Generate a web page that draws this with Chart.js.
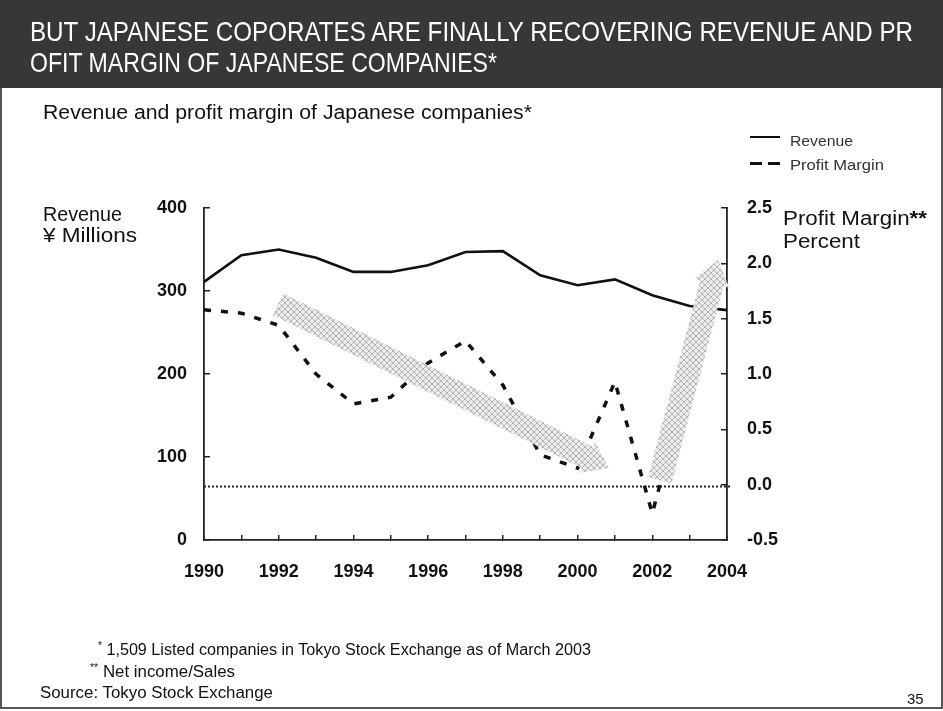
<!DOCTYPE html>
<html>
<head>
<meta charset="utf-8">
<script src="https://cdn.jsdelivr.net/npm/chart.js@4/dist/chart.umd.min.js"></script>
<style>
  html, body { margin: 0; padding: 0; background: #fff; }
  body { width: 943px; height: 711px; position: relative; overflow: hidden;
         font-family: "Liberation Sans", Arial, sans-serif; color: #111; }
  #bar { position: absolute; left: 0; top: 0; width: 943px; height: 88px;
         background: #373737; }
  #frame { position: absolute; left: 0; top: 88px; width: 939px; height: 619px;
           border: 2px solid #555; border-top: none; }
  #chart { position: absolute; left: 0; top: 0; }
  .t { position: absolute; white-space: nowrap; line-height: 1; transform-origin: 0 0; }
  .key { position: absolute; height: 0; }
</style>
</head>
<body>
<div id="bar"></div>
<div id="frame"></div>
<canvas id="chart" width="943" height="711"></canvas>

<div class="t" data-w="883" style="left:30px;top:18px;font-size:28px;color:#fff">BUT JAPANESE COPORATES ARE FINALLY RECOVERING REVENUE AND PR</div>
<div class="t" data-w="467" style="left:30px;top:49px;font-size:28px;color:#fff">OFIT MARGIN OF JAPANESE COMPANIES*</div>

<div class="t" data-w="489" style="left:43px;top:102px;font-size:20px">Revenue and profit margin of Japanese companies*</div>

<div class="key" style="left:750px;top:136px;width:30px;border-top:2px solid #111"></div>
<div class="key" style="left:750px;top:162px;width:12px;border-top:3px solid #111"></div>
<div class="key" style="left:768px;top:162px;width:12px;border-top:3px solid #111"></div>
<div class="t" data-w="63" style="left:790px;top:133px;font-size:15px;color:#333">Revenue</div>
<div class="t" data-w="94" style="left:790px;top:157px;font-size:15px;color:#333">Profit Margin</div>

<div class="t" data-w="79" style="left:43px;top:204px;font-size:20px">Revenue</div>
<div class="t" data-w="94" style="left:43px;top:225px;font-size:20px">¥ Millions</div>
<div class="t" data-w="144" style="left:783px;top:208px;font-size:20px">Profit Margin<b>**</b></div>
<div class="t" data-w="77" style="left:783px;top:231px;font-size:20px">Percent</div>

<div class="t" data-w="493" style="left:98px;top:641px;font-size:16px"><sup style="font-size:10px">*</sup> 1,509 Listed companies in Tokyo Stock Exchange as of March 2003</div>
<div class="t" data-w="145" style="left:90px;top:663px;font-size:16px"><sup style="font-size:10px">**</sup> Net income/Sales</div>
<div class="t" data-w="233" style="left:40px;top:685px;font-size:16px">Source: Tokyo Stock Exchange</div>
<div class="t" style="left:907px;top:691px;font-size:15px">35</div>

<script>
// Fiscal years on the category axis
const years = ['1990','1991','1992','1993','1994','1995','1996','1997',
               '1998','1999','2000','2001','2002','2003','2004'];
// Revenue, ¥ millions (left axis)
const revenue = [311, 343, 350, 340, 323, 323, 331, 347, 348, 319, 307, 314, 295, 282, 277];
// Profit margin, percent (right axis)
const profitMargin = [1.58, 1.55, 1.44, 1.00, 0.73, 0.79, 1.10, 1.30, 0.90, 0.27, 0.15, 0.93, -0.26, 1.00, null];
// Axis tick values
const revenueTicks = [0, 100, 200, 300, 400];
const marginTicks = [-0.5, 0.0, 0.5, 1.0, 1.5, 2.0, 2.5];

// Trend arrows, anchored in (year, percent) coordinates
const trendArrows = [
  { from: [1991.98, 1.63], to: [2000.84, 0.15], shaft: 12, head: 17, headLen: 24 },
  { from: [2002.20, 0.04], to: [2003.76, 2.03], shaft: 12, head: 18, headLen: 24 }
];

// Squeeze / stretch text blocks to their set widths
document.querySelectorAll('.t[data-w]').forEach(el => {
  const w = el.getBoundingClientRect().width;
  el.style.transform = 'scaleX(' + (parseFloat(el.dataset.w) / w) + ')';
});

function hatchPattern(ctx) {
  const c = document.createElement('canvas');
  c.width = c.height = 6;
  const g = c.getContext('2d');
  g.fillStyle = '#ececec';
  g.fillRect(0, 0, 6, 6);
  g.strokeStyle = '#b4b4b4';
  g.lineWidth = 1;
  g.beginPath();
  g.moveTo(0, 0); g.lineTo(6, 6);
  g.moveTo(6, 0); g.lineTo(0, 6);
  g.stroke();
  return ctx.createPattern(c, 'repeat');
}

const zeroLine = {
  id: 'zeroLine',
  beforeDatasetsDraw(chart) {
    const { ctx, chartArea, scales } = chart;
    const y = Math.round(scales.y1.getPixelForValue(0)) + 1.5;
    ctx.save();
    ctx.strokeStyle = '#222';
    ctx.lineWidth = 2;
    ctx.setLineDash([2, 2]);
    ctx.beginPath();
    ctx.moveTo(chartArea.left, y);
    ctx.lineTo(chartArea.right + 4, y);
    ctx.stroke();
    ctx.restore();
  }
};

const arrows = {
  id: 'trendArrows',
  afterDatasetsDraw(chart) {
    const { ctx, scales } = chart;
    const xs = scales.x, ys = scales.y1;
    const base = Number(years[0]);
    ctx.save();
    ctx.fillStyle = hatchPattern(ctx);
    trendArrows.forEach(a => {
      const tx = xs.getPixelForValue(a.from[0] - base), ty = ys.getPixelForValue(a.from[1]);
      const px = xs.getPixelForValue(a.to[0] - base), py = ys.getPixelForValue(a.to[1]);
      const len = Math.hypot(px - tx, py - ty);
      const ux = (px - tx) / len, uy = (py - ty) / len;
      const nx = -uy, ny = ux;
      const bx = px - ux * a.headLen, by = py - uy * a.headLen;
      ctx.beginPath();
      ctx.moveTo(tx + nx * a.shaft, ty + ny * a.shaft);
      ctx.lineTo(bx + nx * a.shaft, by + ny * a.shaft);
      ctx.lineTo(bx + nx * a.head, by + ny * a.head);
      ctx.lineTo(px, py);
      ctx.lineTo(bx - nx * a.head, by - ny * a.head);
      ctx.lineTo(bx - nx * a.shaft, by - ny * a.shaft);
      ctx.lineTo(tx - nx * a.shaft, ty - ny * a.shaft);
      ctx.closePath();
      ctx.fill();
    });
    ctx.restore();
  }
};

const tickFont = { family: '"Liberation Sans", Arial, sans-serif', size: 18, weight: 'bold' };
const axisGrid = { drawOnChartArea: false, drawTicks: true, tickLength: -6, color: '#222', lineWidth: 1.5 };
const axisBorder = { display: true, color: '#222', width: 1.8 };

new Chart(document.getElementById('chart'), {
  type: 'line',
  data: {
    labels: years,
    datasets: [
      { label: 'Revenue', data: revenue, yAxisID: 'y', borderColor: '#111',
        borderWidth: 2.6, pointRadius: 0, tension: 0, fill: false },
      { label: 'Profit Margin', data: profitMargin, yAxisID: 'y1', borderColor: '#111',
        borderWidth: 3.5, borderDash: [7, 10], pointRadius: 0, tension: 0, fill: false,
        spanGaps: false }
    ]
  },
  options: {
    responsive: false,
    animation: false,
    devicePixelRatio: 1,
    layout: { padding: { top: 208, left: 0, right: 0, bottom: 0 } },
    plugins: { legend: { display: false }, tooltip: { enabled: false }, title: { display: false } },
    scales: {
      x: {
        type: 'category',
        offset: false,
        grid: { ...axisGrid, tickLength: -5 },
        border: axisBorder,
        ticks: {
          autoSkip: false, maxRotation: 0, padding: 26, color: '#111', font: tickFont,
          callback: (v, i) => (Number(years[i]) % 2 === 0 ? years[i] : '')
        },
        afterFit: s => { s.height = 171; }
      },
      y: {
        position: 'left',
        min: revenueTicks[0], max: revenueTicks[revenueTicks.length - 1],
        grid: axisGrid,
        border: axisBorder,
        afterBuildTicks: s => { s.ticks = revenueTicks.map(v => ({ value: v })); },
        ticks: { padding: 23, color: '#111', font: tickFont, callback: v => String(v) },
        afterFit: s => { s.width = 204; }
      },
      y1: {
        position: 'right',
        min: marginTicks[0], max: marginTicks[marginTicks.length - 1],
        grid: axisGrid,
        border: axisBorder,
        afterBuildTicks: s => { s.ticks = marginTicks.map(v => ({ value: v })); },
        ticks: { padding: 26, color: '#111', font: tickFont, callback: v => v.toFixed(1) },
        afterFit: s => { s.width = 216; }
      }
    }
  },
  plugins: [zeroLine, arrows]
});
</script>
</body>
</html>
